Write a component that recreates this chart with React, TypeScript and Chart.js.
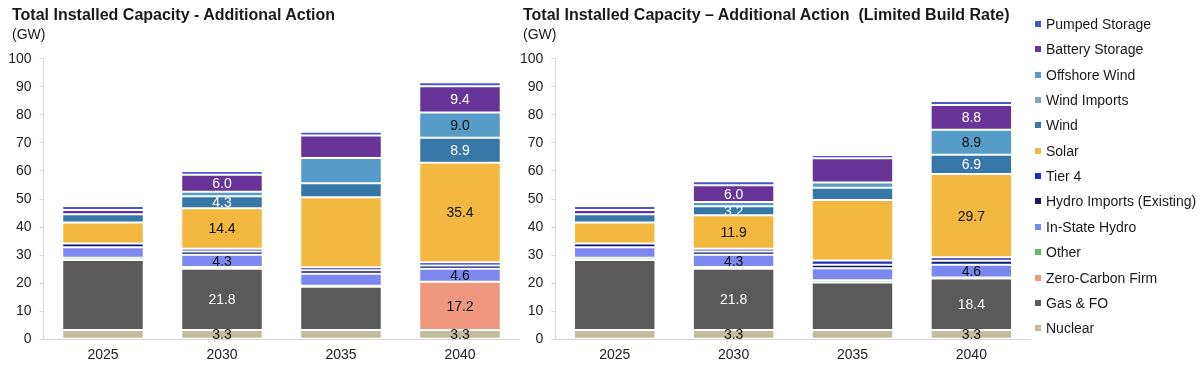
import React, { useEffect, useRef } from 'react';
import { Chart, registerables } from 'chart.js';

Chart.register(...registerables);

const FONT = '"Liberation Sans", Arial, Helvetica, sans-serif';

// ---- Data ----
const categories = ['2025', '2030', '2035', '2040'];
const labeledCategories = ['2030', '2040'];
const yMin = 0;
const yMax = 100;
const yStep = 10;

const seriesNames = [
  'Nuclear',
  'Gas & FO',
  'Zero-Carbon Firm',
  'Other',
  'In-State Hydro',
  'Hydro Imports (Existing)',
  'Tier 4',
  'Solar',
  'Wind',
  'Wind Imports',
  'Offshore Wind',
  'Battery Storage',
  'Pumped Storage',
];

// Additional Action (GW)
const aaNuclear = [3.3, 3.3, 3.3, 3.3];
const aaGas = [25.0, 21.8, 15.4, 0];
const aaZeroCarbon = [0, 0, 0, 17.2];
const aaOther = [0.8, 0.7, 0.4, 0];
const aaHydro = [3.7, 4.3, 4.3, 4.6];
const aaHydroImports = [1.3, 1.2, 1.2, 1.2];
const aaTier4 = [0, 1.0, 1.1, 1.2];
const aaSolar = [7.5, 14.4, 24.9, 35.4];
const aaWind = [3.0, 4.3, 5.0, 8.9];
const aaWindImports = [0, 0, 0, 0];
const aaOffshore = [0, 1.6, 9.0, 9.0];
const aaBattery = [1.5, 6.0, 8.0, 9.4];
const aaPumped = [1.4, 1.4, 1.4, 1.4];

// Additional Action (Limited Build Rate) (GW)
const lbNuclear = [3.3, 3.3, 3.3, 3.3];
const lbGas = [25.0, 21.8, 16.9, 18.4];
const lbZeroCarbon = [0, 0, 0, 0];
const lbOther = [0.8, 0.7, 0.8, 0.3];
const lbHydro = [3.7, 4.3, 4.3, 4.6];
const lbHydroImports = [1.3, 1.2, 1.3, 1.4];
const lbTier4 = [0, 1.0, 1.5, 1.2];
const lbSolar = [7.5, 11.9, 21.5, 29.7];
const lbWind = [3.0, 3.2, 4.4, 6.9];
const lbWindImports = [0, 0, 0, 0];
const lbOffshore = [0, 1.5, 1.9, 8.9];
const lbBattery = [1.5, 6.0, 8.6, 8.8];
const lbPumped = [1.4, 1.4, 1.2, 1.4];

const aaSeries = [aaNuclear, aaGas, aaZeroCarbon, aaOther, aaHydro, aaHydroImports, aaTier4, aaSolar, aaWind, aaWindImports, aaOffshore, aaBattery, aaPumped];
const lbSeries = [lbNuclear, lbGas, lbZeroCarbon, lbOther, lbHydro, lbHydroImports, lbTier4, lbSolar, lbWind, lbWindImports, lbOffshore, lbBattery, lbPumped];

// ---- Styles ----
const seriesColors = [
  '#c4bd9d', // Nuclear
  '#5a5a5a', // Gas & FO
  '#f09780', // Zero-Carbon Firm
  '#5bbd68', // Other
  '#7b88ef', // In-State Hydro
  '#0f1a6f', // Hydro Imports
  '#2133b3', // Tier 4
  '#f3b83f', // Solar
  '#3677a8', // Wind
  '#80a7bf', // Wind Imports
  '#559cc8', // Offshore Wind
  '#693497', // Battery Storage
  '#4a57d2', // Pumped Storage
];
const labelColors = [
  '#111111', '#ffffff', '#111111', '#111111', '#111111', '#ffffff', '#ffffff',
  '#111111', '#ffffff', '#111111', '#111111', '#ffffff', '#ffffff',
];

const segLabelPlugin = {
  id: 'segLabels',
  afterDatasetsDraw(chart: any) {
    const ctx = chart.ctx;
    ctx.save();
    ctx.font = `14px ${FONT}`;
    ctx.textAlign = 'center';
    ctx.textBaseline = 'middle';
    chart.data.datasets.forEach((ds: any, di: number) => {
      const meta = chart.getDatasetMeta(di);
      meta.data.forEach((el: any, i: number) => {
        const v = ds.data[i];
        if (!labeledCategories.includes(chart.data.labels[i]) || v < 3) return;
        const p = el.getProps(['x', 'y', 'base'], true);
        ctx.fillStyle = labelColors[di];
        ctx.fillText(v.toFixed(1), p.x, (p.y + p.base) / 2 + 1);
      });
    });
    ctx.restore();
  },
};

function ChartPanel(props: { series: number[][]; left: number; width: number; padLeft: number; padRight: number }) {
  const ref = useRef<HTMLCanvasElement | null>(null);
  useEffect(() => {
    if (!ref.current) return;
    const chart = new Chart(ref.current, {
      type: 'bar',
      data: {
        labels: categories,
        datasets: props.series.map((vals, i) => ({
          label: seriesNames[i],
          data: vals,
          backgroundColor: seriesColors[i],
          borderColor: '#ffffff',
          borderWidth: 1,
          borderSkipped: false,
          barPercentage: 0.685,
          categoryPercentage: 1,
        })),
      },
      options: {
        responsive: false,
        animation: false,
        devicePixelRatio: 1,
        layout: { padding: { left: props.padLeft, right: props.padRight, top: 58.7, bottom: 6 } },
        plugins: {
          legend: { display: false },
          title: { display: false },
          tooltip: { enabled: false },
        },
        scales: {
          x: {
            stacked: true,
            grid: { display: false, drawTicks: false },
            border: { display: true, color: '#d9d9d9', width: 1 },
            ticks: { color: '#222222', font: { family: FONT, size: 14 }, padding: 7 },
            afterFit: (s: any) => {
              s.height = 23.7;
            },
          },
          y: {
            stacked: true,
            min: yMin,
            max: yMax,
            ticks: { stepSize: yStep, color: '#222222', font: { family: FONT, size: 14 }, padding: 8 },
            grid: { display: true, drawOnChartArea: false, drawTicks: true, tickLength: 4, color: '#d9d9d9' },
            border: { display: true, color: '#d9d9d9', width: 1 },
            afterFit: (s: any) => {
              s.width = 35;
            },
          },
        },
      },
      plugins: [segLabelPlugin],
    } as any);
    return () => chart.destroy();
  }, []);
  return (
    <canvas
      ref={ref}
      width={props.width}
      height={369}
      style={{ position: 'absolute', left: props.left, top: 0, width: props.width, height: 369 }}
    />
  );
}

const titleStyle: React.CSSProperties = {
  position: 'absolute',
  top: 7,
  fontFamily: FONT,
  fontWeight: 'bold',
  fontSize: 16,
  lineHeight: '16px',
  color: '#1a1a1a',
  whiteSpace: 'pre',
};
const unitStyle: React.CSSProperties = {
  position: 'absolute',
  top: 27,
  fontFamily: FONT,
  fontSize: 14,
  lineHeight: '14px',
  color: '#1a1a1a',
  whiteSpace: 'pre',
};

export default function App() {
  const legendItems = seriesNames.map((n, i) => ({ name: n, color: seriesColors[i] })).reverse();
  return (
    <div style={{ position: 'fixed', left: 0, top: 0, width: 1200, height: 369, background: '#ffffff', overflow: 'hidden' }}>
      <ChartPanel series={aaSeries} left={0} width={530} padLeft={8.5} padRight={10.5} />
      <ChartPanel series={lbSeries} left={500} width={540} padLeft={20.3} padRight={9.2} />
      <div style={{ ...titleStyle, left: 12 }}>Total Installed Capacity - Additional Action</div>
      <div style={{ ...unitStyle, left: 12 }}>(GW)</div>
      <div style={{ ...titleStyle, left: 523 }}>{'Total Installed Capacity \u2013 Additional Action  (Limited Build Rate)'}</div>
      <div style={{ ...unitStyle, left: 523 }}>(GW)</div>
      {legendItems.map((it, i) => (
        <div
          key={it.name}
          style={{
            position: 'absolute',
            left: 1035,
            top: 24 + i * 25.35 - 8,
            height: 16,
            display: 'flex',
            alignItems: 'center',
            fontFamily: FONT,
            fontSize: 14,
            color: '#1a1a1a',
            whiteSpace: 'nowrap',
          }}
        >
          <span style={{ display: 'inline-block', width: 6, height: 6, background: it.color, marginRight: 5 }} />
          <span>{it.name}</span>
        </div>
      ))}
    </div>
  );
}
